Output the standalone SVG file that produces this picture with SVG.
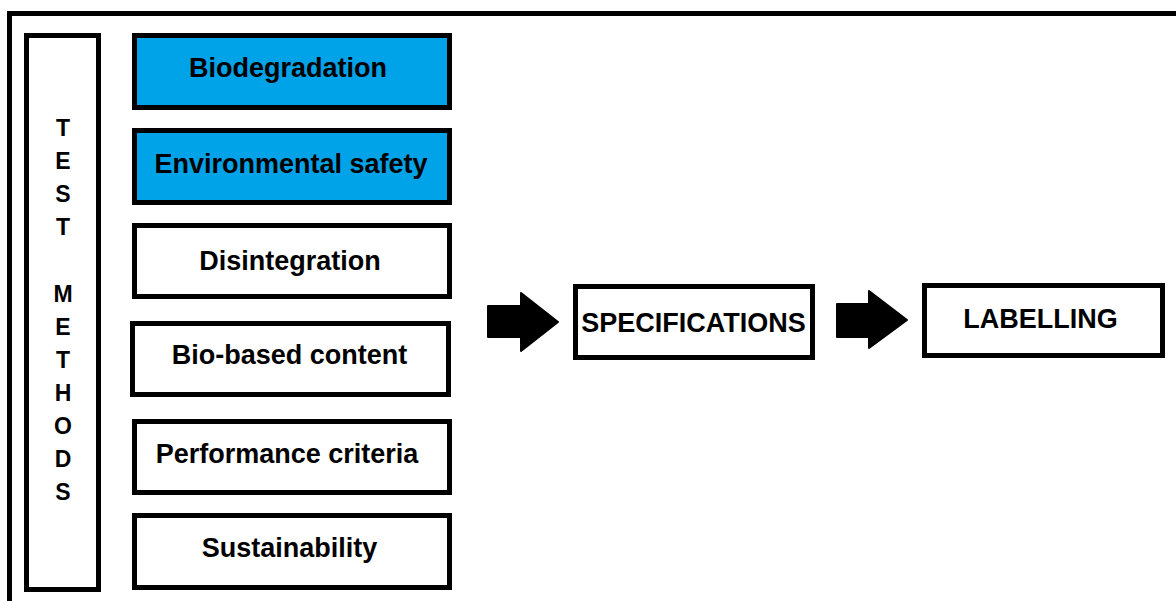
<svg xmlns="http://www.w3.org/2000/svg" width="1176" height="601" viewBox="0 0 1176 601">
<style>
.box{fill:#ffffff;stroke:#000000;stroke-width:5}
.blue{fill:#00a2e8}
.lbl{font-family:"Liberation Sans",Arial,sans-serif;font-weight:bold;font-size:27px;fill:#000000;text-anchor:middle}
.vert{font-family:"Liberation Sans",Arial,sans-serif;font-weight:bold;font-size:23px;fill:#000000;text-anchor:middle}
.arrow{fill:#000000;stroke:#000000;stroke-width:2;stroke-linejoin:round}
</style>
<rect width="1176" height="601" fill="#ffffff"/>
<path d="M9.5 601 V13.5 H1176" fill="none" stroke="#000000" stroke-width="5"/>
<g id="test-methods">
<rect class="box" x="26.5" y="35.5" width="72" height="554"/>
<text class="vert" x="63" y="136">T</text>
<text class="vert" x="63" y="169">E</text>
<text class="vert" x="63" y="202">S</text>
<text class="vert" x="63" y="235">T</text>
<text class="vert" x="63" y="302">M</text>
<text class="vert" x="63" y="335">E</text>
<text class="vert" x="63" y="368">T</text>
<text class="vert" x="63" y="401">H</text>
<text class="vert" x="63" y="434">O</text>
<text class="vert" x="63" y="467">D</text>
<text class="vert" x="63" y="500">S</text>
</g>
<g id="biodegradation">
<rect class="box blue" x="134.5" y="35.5" width="315" height="72"/>
<text class="lbl" x="288" y="77">Biodegradation</text>
</g>
<g id="environmental-safety">
<rect class="box blue" x="134.5" y="130.5" width="315" height="72"/>
<text class="lbl" x="291" y="173">Environmental safety</text>
</g>
<g id="disintegration">
<rect class="box" x="134.5" y="225.5" width="315" height="71"/>
<text class="lbl" x="290" y="270">Disintegration</text>
</g>
<g id="bio-based-content">
<rect class="box" x="132.5" y="323.5" width="316" height="71"/>
<text class="lbl" x="289.5" y="364">Bio-based content</text>
</g>
<g id="performance-criteria">
<rect class="box" x="134.5" y="421.5" width="315" height="71"/>
<text class="lbl" x="287" y="463">Performance criteria</text>
</g>
<g id="sustainability">
<rect class="box" x="134.5" y="515.5" width="315" height="72"/>
<text class="lbl" x="289.5" y="557">Sustainability</text>
</g>
<g id="specifications">
<rect class="box" x="575.5" y="286.5" width="237" height="71"/>
<text class="lbl" x="693.5" y="332">SPECIFICATIONS</text>
</g>
<g id="labelling">
<rect class="box" x="924.5" y="285.5" width="238" height="70"/>
<text class="lbl" x="1040.5" y="328">LABELLING</text>
</g>
<g id="connectors">
<path class="arrow" d="M488 306 H521 V293 L558 322 L521 351 V337 H488 Z"/>
<path class="arrow" d="M837 304 H869 V291 L907 320 L869 348 V337 H837 Z"/>
</g>
</svg>
